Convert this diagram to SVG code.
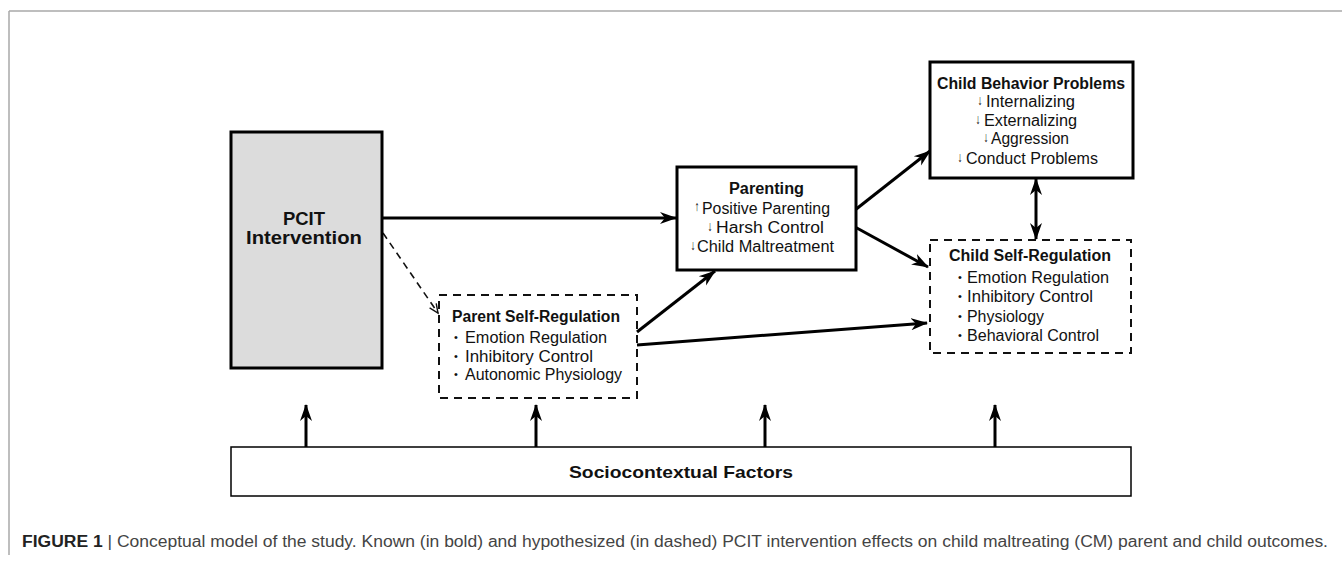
<svg xmlns="http://www.w3.org/2000/svg" width="1342" height="562" viewBox="0 0 1342 562">
<style>
.t{font-family:"Liberation Sans",Arial,sans-serif;font-size:16px;fill:#111}
.b{font-weight:bold}
.ar{font-family:"Liberation Sans","DejaVu Sans",sans-serif;font-size:14px;font-weight:bold;fill:#111;text-anchor:middle}
.bul{font-family:"Liberation Sans",sans-serif;font-size:11px;fill:#111;text-anchor:middle}
.solid{fill:#fff;stroke:#000;stroke-width:3}
.dash{fill:none;stroke:#111;stroke-width:2;stroke-dasharray:8,6}
.c{stroke:#000;stroke-width:3;fill:none}
.cap{font-family:"Liberation Sans",Arial,sans-serif;font-size:16px;fill:#444}
</style>
<defs>
<marker id="ah" markerUnits="userSpaceOnUse" markerWidth="18" markerHeight="14" refX="16" refY="7" orient="auto">
<path d="M0,1 L17,7 L0,13 L5,7 z" fill="#000"/>
</marker>
<marker id="ahs" markerUnits="userSpaceOnUse" markerWidth="18" markerHeight="14" refX="1" refY="7" orient="auto">
<path d="M17,1 L0,7 L17,13 L12,7 z" fill="#000"/>
</marker>
<marker id="ahd" markerUnits="userSpaceOnUse" markerWidth="12" markerHeight="10" refX="10" refY="5" orient="auto">
<path d="M1,1 L10,5 L1,9" fill="none" stroke="#111" stroke-width="1.4"/>
</marker>
</defs>
<rect x="0" y="0" width="1342" height="562" fill="#fff"/>
<g id="frame">
<line x1="9" y1="11" x2="1342" y2="11" stroke="#a8a8a8" stroke-width="1.5"/>
<line x1="9" y1="11" x2="9" y2="555" stroke="#a8a8a8" stroke-width="1.5"/>
</g>
<g id="connectors">
<line class="c" x1="382" y1="218" x2="676" y2="218" marker-end="url(#ah)"/>
<line x1="383" y1="233" x2="438" y2="313" stroke="#111" stroke-width="1.6" stroke-dasharray="7,5" marker-end="url(#ahd)"/>
<line class="c" x1="637" y1="332" x2="715" y2="271" marker-end="url(#ah)"/>
<line class="c" x1="637" y1="345" x2="927" y2="323" marker-end="url(#ah)"/>
<line class="c" x1="855" y1="210" x2="930" y2="151" marker-end="url(#ah)"/>
<line class="c" x1="855" y1="227" x2="928" y2="267" marker-end="url(#ah)"/>
<line class="c" x1="1036" y1="179" x2="1036" y2="239" marker-start="url(#ahs)" marker-end="url(#ah)"/>
<line class="c" x1="306" y1="447" x2="306" y2="405" stroke-width="2.5" marker-end="url(#ah)"/>
<line class="c" x1="536" y1="447" x2="536" y2="405" stroke-width="2.5" marker-end="url(#ah)"/>
<line class="c" x1="765" y1="447" x2="765" y2="405" stroke-width="2.5" marker-end="url(#ah)"/>
<line class="c" x1="995" y1="447" x2="995" y2="405" stroke-width="2.5" marker-end="url(#ah)"/>
</g>
<g id="pcit">
<rect x="231" y="132" width="151" height="236" fill="#dcdcdc" stroke="#000" stroke-width="3"/>
<text class="t b" x="283" y="225" style="font-size:19px" textLength="42" lengthAdjust="spacingAndGlyphs">PCIT</text>
<text class="t b" x="246" y="244" style="font-size:19px" textLength="116" lengthAdjust="spacingAndGlyphs">Intervention</text>
</g>
<g id="parent-self-regulation">
<rect class="dash" x="439" y="295" width="198" height="103"/>
<text class="t b" x="452" y="322" textLength="168" lengthAdjust="spacingAndGlyphs">Parent Self-Regulation</text>
<text class="bul" x="456" y="341">•</text>
<text class="t" x="465" y="343" textLength="142" lengthAdjust="spacingAndGlyphs">Emotion Regulation</text>
<text class="bul" x="456" y="360">•</text>
<text class="t" x="465" y="362" textLength="128" lengthAdjust="spacingAndGlyphs">Inhibitory Control</text>
<text class="bul" x="456" y="378">•</text>
<text class="t" x="465" y="380" textLength="157" lengthAdjust="spacingAndGlyphs">Autonomic Physiology</text>
</g>
<g id="parenting">
<rect class="solid" x="677" y="167" width="179" height="103"/>
<text class="t b" x="729" y="194" textLength="75" lengthAdjust="spacingAndGlyphs">Parenting</text>
<text class="ar" x="697" y="211" textLength="5" lengthAdjust="spacingAndGlyphs">↑</text>
<text class="t" x="702" y="214" textLength="128" lengthAdjust="spacingAndGlyphs">Positive Parenting</text>
<text class="ar" x="710" y="231" textLength="5" lengthAdjust="spacingAndGlyphs">↓</text>
<text class="t" x="716" y="233" textLength="108" lengthAdjust="spacingAndGlyphs">Harsh Control</text>
<text class="ar" x="693" y="250" textLength="5" lengthAdjust="spacingAndGlyphs">↓</text>
<text class="t" x="697" y="252" textLength="137" lengthAdjust="spacingAndGlyphs">Child Maltreatment</text>
</g>
<g id="child-behavior-problems">
<rect class="solid" x="930" y="62" width="203" height="116"/>
<text class="t b" x="937" y="89" textLength="188" lengthAdjust="spacingAndGlyphs">Child Behavior Problems</text>
<text class="ar" x="980" y="105" textLength="5" lengthAdjust="spacingAndGlyphs">↓</text>
<text class="t" x="986" y="107" textLength="89" lengthAdjust="spacingAndGlyphs">Internalizing</text>
<text class="ar" x="978" y="124" textLength="5" lengthAdjust="spacingAndGlyphs">↓</text>
<text class="t" x="984" y="126" textLength="93" lengthAdjust="spacingAndGlyphs">Externalizing</text>
<text class="ar" x="986" y="142" textLength="5" lengthAdjust="spacingAndGlyphs">↓</text>
<text class="t" x="991" y="144" textLength="78" lengthAdjust="spacingAndGlyphs">Aggression</text>
<text class="ar" x="960" y="162" textLength="5" lengthAdjust="spacingAndGlyphs">↓</text>
<text class="t" x="966" y="164" textLength="132" lengthAdjust="spacingAndGlyphs">Conduct Problems</text>
</g>
<g id="child-self-regulation">
<rect class="dash" x="930" y="240" width="201" height="113"/>
<text class="t b" x="949" y="261" textLength="162" lengthAdjust="spacingAndGlyphs">Child Self-Regulation</text>
<text class="bul" x="960" y="281">•</text>
<text class="t" x="967" y="283" textLength="142" lengthAdjust="spacingAndGlyphs">Emotion Regulation</text>
<text class="bul" x="960" y="300">•</text>
<text class="t" x="967" y="302" textLength="126" lengthAdjust="spacingAndGlyphs">Inhibitory Control</text>
<text class="bul" x="960" y="320">•</text>
<text class="t" x="967" y="322" textLength="77" lengthAdjust="spacingAndGlyphs">Physiology</text>
<text class="bul" x="960" y="339">•</text>
<text class="t" x="967" y="341" textLength="132" lengthAdjust="spacingAndGlyphs">Behavioral Control</text>
</g>
<g id="sociocontextual-factors">
<rect x="231" y="447" width="900" height="49" fill="#fff" stroke="#000" stroke-width="1.5"/>
<text class="t b" x="569" y="478" style="font-size:17px" textLength="224" lengthAdjust="spacingAndGlyphs">Sociocontextual Factors</text>
</g>
<g id="caption">
<text class="cap" x="22" y="547" textLength="1306" lengthAdjust="spacingAndGlyphs"><tspan font-weight="bold" fill="#222">FIGURE 1</tspan> | Conceptual model of the study. Known (in bold) and hypothesized (in dashed) PCIT intervention effects on child maltreating (CM) parent and child outcomes.</text>
</g>
</svg>
